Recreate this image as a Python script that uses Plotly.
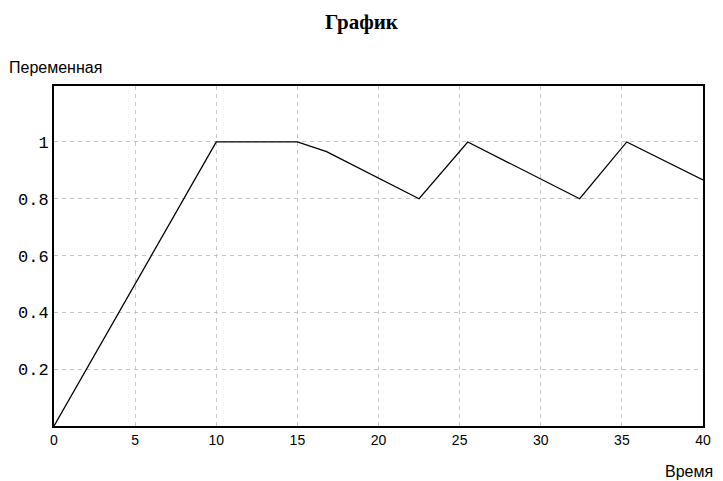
import plotly.graph_objects as go

time = [0, 10, 15, 16.8, 22.5, 25.5, 32.4, 35.3, 40]
value = [0, 1, 1, 0.966, 0.8, 1.0, 0.8, 1.0, 0.866]
x_ticks = [0, 5, 10, 15, 20, 25, 30, 35, 40]
y_ticks = [0.2, 0.4, 0.6, 0.8, 1]
y_tick_labels = ["0.2", "0.4", "0.6", "0.8", "1"]

fig = go.Figure()
fig.add_trace(go.Scatter(x=time, y=value, mode="lines",
                         line=dict(color="black", width=1.3), showlegend=False))

fig.update_layout(
    width=723, height=481,
    paper_bgcolor="white", plot_bgcolor="white",
    margin=dict(l=54, r=15, t=86, b=55),
    title=dict(text="<b>График</b>", x=0.5, xanchor="center", y=0.954, yanchor="middle",
               font=dict(family="Liberation Serif", size=21, color="black")),
    xaxis=dict(range=[0, 40], tickvals=x_ticks, ticktext=[str(v) for v in x_ticks],
               showgrid=True, gridcolor="#c4c4c4", griddash="4px,4px", gridwidth=1,
               showline=True, linecolor="black", linewidth=2, mirror=True,
               ticks="", zeroline=False,
               tickfont=dict(family="Liberation Sans Narrow, Liberation Sans", size=14, color="black")),
    yaxis=dict(range=[0, 1.197], tickvals=y_ticks, ticktext=y_tick_labels,
               showgrid=True, gridcolor="#c4c4c4", griddash="4px,4px", gridwidth=1,
               showline=True, linecolor="black", linewidth=2, mirror=True,
               ticks="", zeroline=False,
               tickfont=dict(family="Liberation Mono", size=17, color="black")),
    annotations=[
        dict(text="Переменная", xref="paper", yref="paper", x=-0.072, y=1.053,
             xanchor="left", yanchor="middle", showarrow=False,
             font=dict(family="Liberation Sans", size=16, color="black")),
        dict(text="Время", xref="paper", yref="paper", x=1.018, y=-0.135,
             xanchor="right", yanchor="middle", showarrow=False,
             font=dict(family="Liberation Sans", size=16, color="black")),
    ],
)

fig.write_html("out.html", config={"displayModeBar": False},
               post_script="document.body.style.margin='0px';")
